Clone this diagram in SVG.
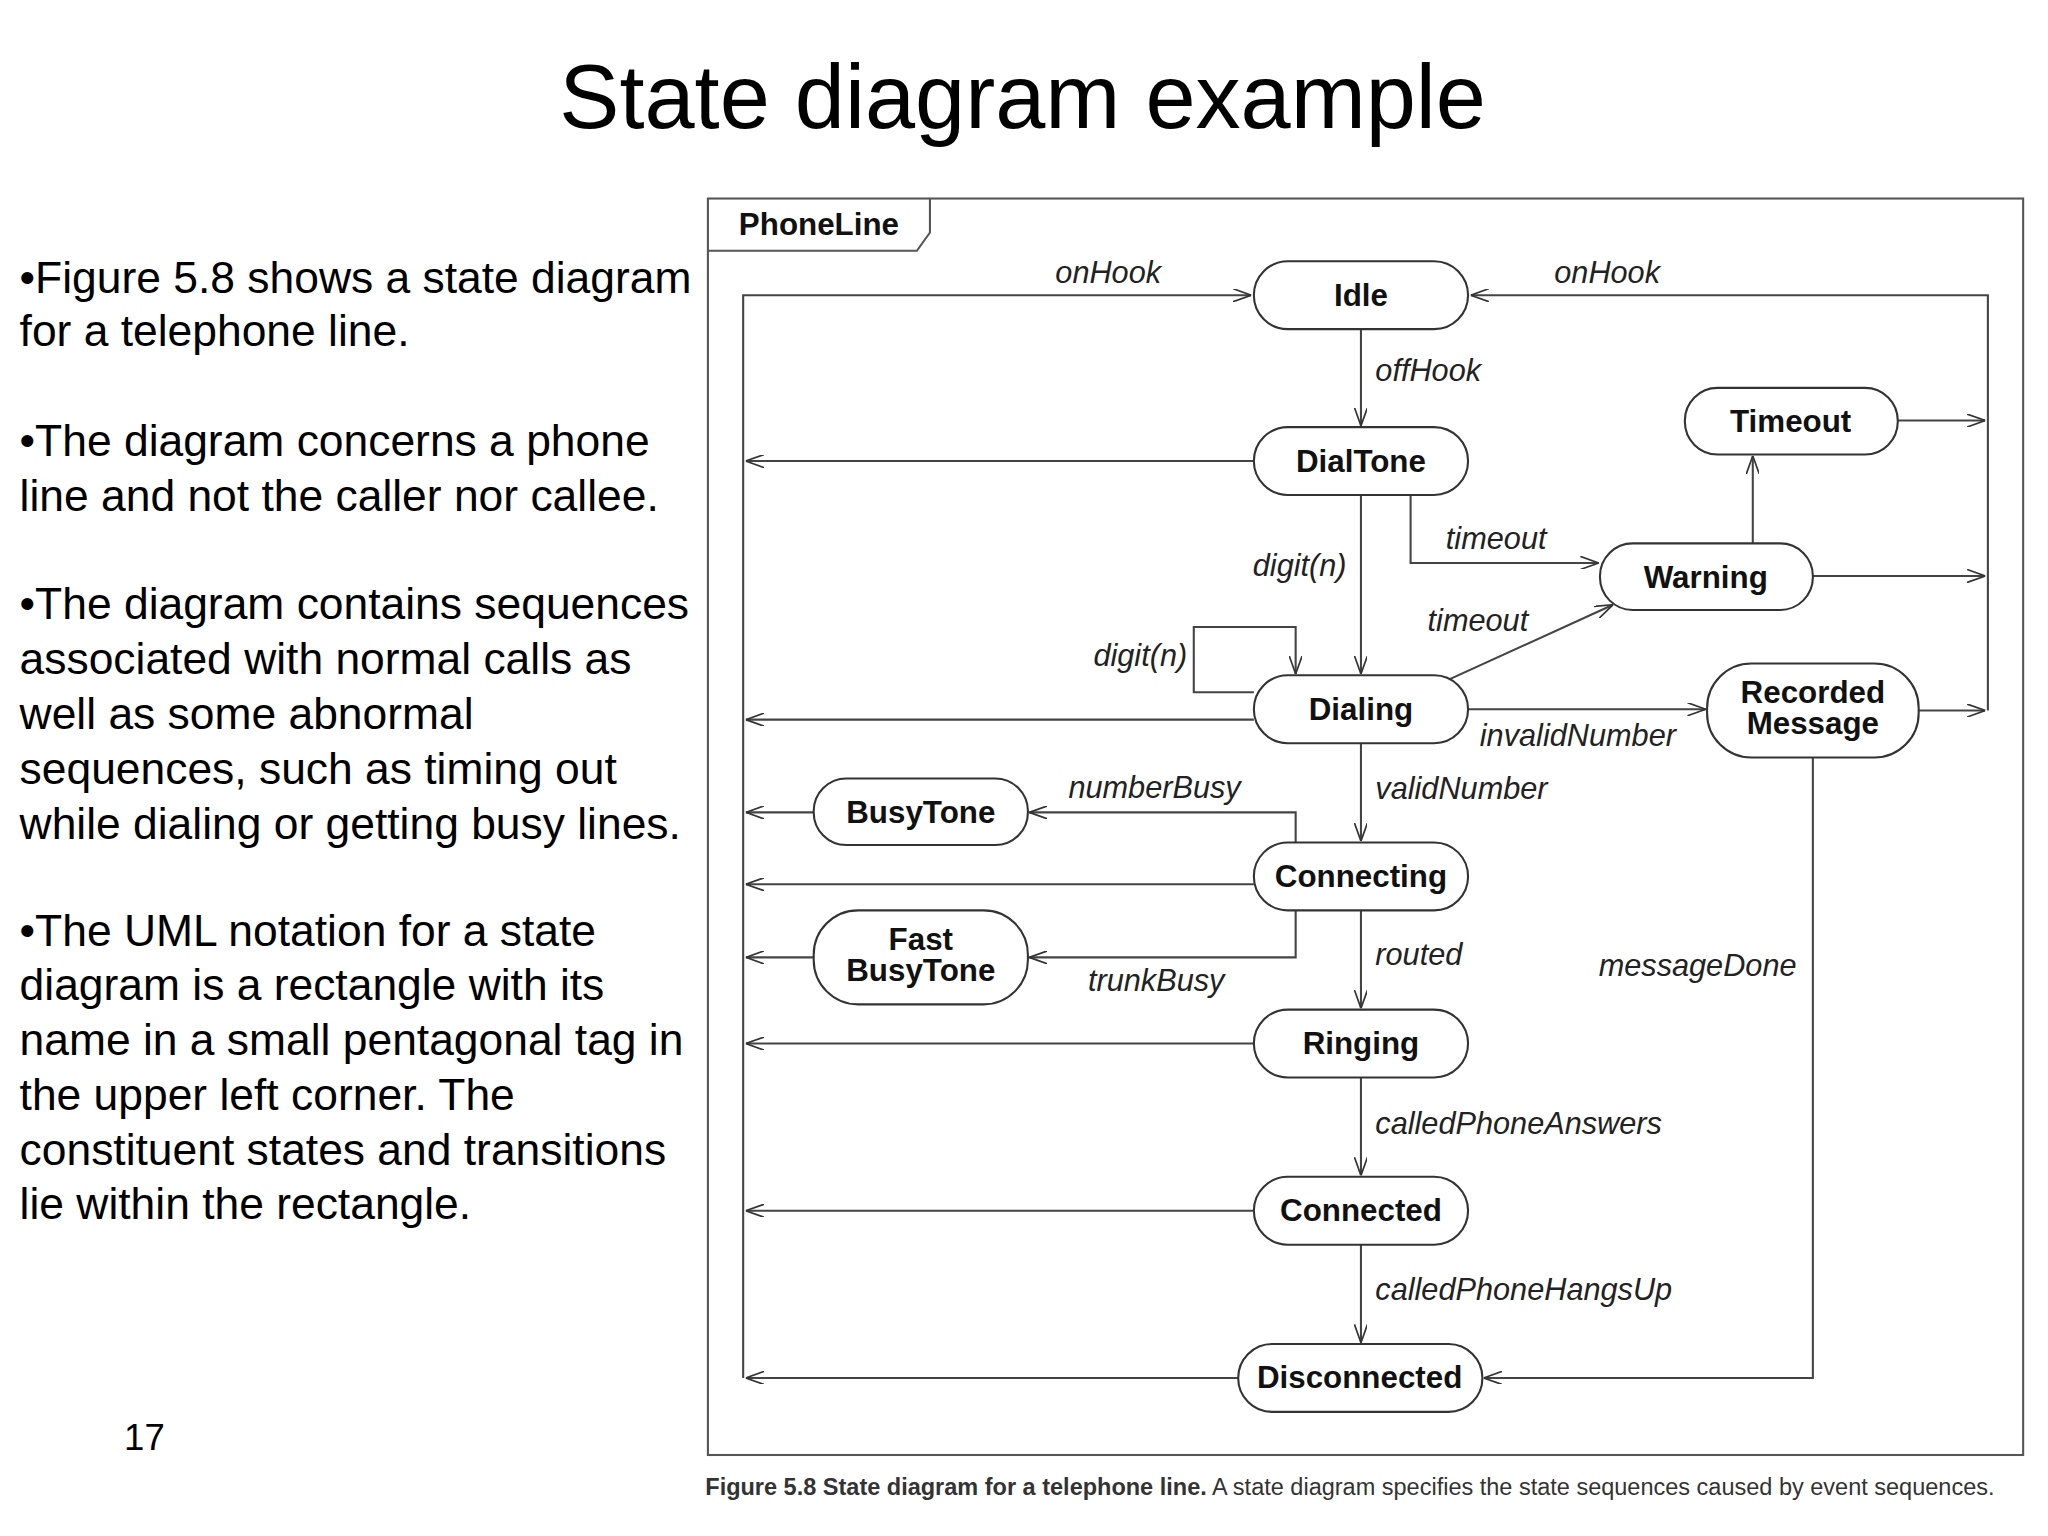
<svg xmlns="http://www.w3.org/2000/svg" width="2048" height="1536" viewBox="0 0 2048 1536">
<defs>
<marker id="a" viewBox="0 0 14 10" refX="14" refY="5" markerWidth="14" markerHeight="10" markerUnits="userSpaceOnUse" orient="auto"><path d="M0,0 L14,5 L0,10" fill="none" stroke="#333" stroke-width="1.3"/></marker>
<style>
.st rect{fill:#fff;stroke:#333;stroke-width:1.6}
.st text,.nm{font-family:"Liberation Sans",Arial,sans-serif;font-weight:bold;font-size:24px;fill:#111;text-anchor:middle}
.lb{font-family:"Liberation Sans",Arial,sans-serif;font-style:italic;font-size:23.5px;fill:#222}
.c path{fill:none;stroke:#444;stroke-width:1.6}
.body{font-family:"Liberation Sans",Arial,sans-serif;font-size:34px;fill:#000}
</style>
</defs>
<rect width="2048" height="1536" fill="#fff"/>
<g transform="scale(1.3061)">
<text x="783" y="98" font-family="Liberation Sans,Arial,sans-serif" font-size="69" text-anchor="middle">State diagram example</text>
<g class="body">
<text x="15" y="224">•Figure 5.8 shows a state diagram</text>
<text x="15" y="265">for a telephone line.</text>
<text x="15" y="349">•The diagram concerns a phone</text>
<text x="15" y="391">line and not the caller nor callee.</text>
<text x="15" y="474">•The diagram contains sequences</text>
<text x="15" y="516">associated with normal calls as</text>
<text x="15" y="558">well as some abnormal</text>
<text x="15" y="600">sequences, such as timing out</text>
<text x="15" y="642">while dialing or getting busy lines.</text>
<text x="15" y="724">•The UML notation for a state</text>
<text x="15" y="766">diagram is a rectangle with its</text>
<text x="15" y="808">name in a small pentagonal tag in</text>
<text x="15" y="850">the upper left corner. The</text>
<text x="15" y="892">constituent states and transitions</text>
<text x="15" y="933">lie within the rectangle.</text>
</g>
<text x="95" y="1110" font-family="Liberation Sans,Arial,sans-serif" font-size="28">17</text>
<g id="frame">
<rect x="542" y="152" width="1007" height="962" fill="none" stroke="#555" stroke-width="1.6"/>
<path d="M542,192 L702,192 L712,178 L712,152" fill="none" stroke="#555" stroke-width="1.6"/>
<text class="nm" x="627" y="180">PhoneLine</text>
</g>
<g id="connectors" class="c">
<path d="M569,1055 L569,226 L958,226" marker-end="url(#a)"/>
<path d="M960,353 L571,353" marker-end="url(#a)"/>
<path d="M960,551 L571,551" marker-end="url(#a)"/>
<path d="M623,622 L571,622" marker-end="url(#a)"/>
<path d="M960,677 L571,677" marker-end="url(#a)"/>
<path d="M623,733 L571,733" marker-end="url(#a)"/>
<path d="M960,799 L571,799" marker-end="url(#a)"/>
<path d="M960,927 L571,927" marker-end="url(#a)"/>
<path d="M948,1055 L571,1055" marker-end="url(#a)"/>
<path d="M1522,544 L1522,226 L1126,226" marker-end="url(#a)"/>
<path d="M1453,322 L1520,322" marker-end="url(#a)"/>
<path d="M1388,441 L1520,441" marker-end="url(#a)"/>
<path d="M1469,544 L1520,544" marker-end="url(#a)"/>
<path d="M1042,252 L1042,326" marker-end="url(#a)"/>
<path d="M1042,379 L1042,516" marker-end="url(#a)"/>
<path d="M1080,379 L1080,431 L1224,431" marker-end="url(#a)"/>
<path d="M1110,520 L1235,463" marker-end="url(#a)"/>
<path d="M1342,416 L1342,349" marker-end="url(#a)"/>
<path d="M960,530 L914,530 L914,480 L992,480 L992,516" marker-end="url(#a)"/>
<path d="M1124,543 L1306,543" marker-end="url(#a)"/>
<path d="M1042,569 L1042,644" marker-end="url(#a)"/>
<path d="M992,645 L992,622 L788,622" marker-end="url(#a)"/>
<path d="M992,697 L992,733 L788,733" marker-end="url(#a)"/>
<path d="M1042,697 L1042,772" marker-end="url(#a)"/>
<path d="M1042,825 L1042,900" marker-end="url(#a)"/>
<path d="M1042,953 L1042,1028" marker-end="url(#a)"/>
<path d="M1388,580 L1388,1055 L1136,1055" marker-end="url(#a)"/>
</g>
<g id="labels" class="lb">
<text x="808" y="217">onHook</text>
<text x="1190" y="217">onHook</text>
<text x="1053" y="292">offHook</text>
<text x="1031" y="441" text-anchor="end">digit(n)</text>
<text x="1107" y="420">timeout</text>
<text x="1093" y="483">timeout</text>
<text x="909" y="510" text-anchor="end">digit(n)</text>
<text x="1133" y="571">invalidNumber</text>
<text x="818" y="611">numberBusy</text>
<text x="1053" y="612">validNumber</text>
<text x="833" y="759">trunkBusy</text>
<text x="1053" y="739">routed</text>
<text x="1224" y="747">messageDone</text>
<text x="1053" y="868">calledPhoneAnswers</text>
<text x="1053" y="995">calledPhoneHangsUp</text>
</g>
<g id="Idle" class="st"><rect x="960" y="200" width="164" height="52" rx="26"/><text x="1042" y="234">Idle</text></g>
<g id="DialTone" class="st"><rect x="960" y="327" width="164" height="52" rx="26"/><text x="1042" y="361">DialTone</text></g>
<g id="Dialing" class="st"><rect x="960" y="517" width="164" height="52" rx="26"/><text x="1042" y="551">Dialing</text></g>
<g id="Connecting" class="st"><rect x="960" y="645" width="164" height="52" rx="26"/><text x="1042" y="679">Connecting</text></g>
<g id="Ringing" class="st"><rect x="960" y="773" width="164" height="52" rx="26"/><text x="1042" y="807">Ringing</text></g>
<g id="Connected" class="st"><rect x="960" y="901" width="164" height="52" rx="26"/><text x="1042" y="935">Connected</text></g>
<g id="Disconnected" class="st"><rect x="948" y="1029" width="187" height="52" rx="26"/><text x="1041" y="1063">Disconnected</text></g>
<g id="Timeout" class="st"><rect x="1290" y="297" width="163" height="51" rx="25"/><text x="1371" y="331">Timeout</text></g>
<g id="Warning" class="st"><rect x="1225" y="416" width="163" height="51" rx="25"/><text x="1306" y="450">Warning</text></g>
<g id="RecordedMessage" class="st"><rect x="1307" y="508" width="162" height="72" rx="34"/><text x="1388" y="538">Recorded</text><text x="1388" y="562">Message</text></g>
<g id="BusyTone" class="st"><rect x="623" y="596" width="164" height="51" rx="25"/><text x="705" y="630">BusyTone</text></g>
<g id="FastBusyTone" class="st"><rect x="623" y="697" width="164" height="72" rx="34"/><text x="705" y="727">Fast</text><text x="705" y="751">BusyTone</text></g>
<text x="540" y="1145" font-family="Liberation Sans,Arial,sans-serif" font-size="18" fill="#333"><tspan font-weight="bold">Figure 5.8  State diagram for a telephone line.</tspan> A state diagram specifies the state sequences caused by event sequences.</text>
</g>
</svg>
